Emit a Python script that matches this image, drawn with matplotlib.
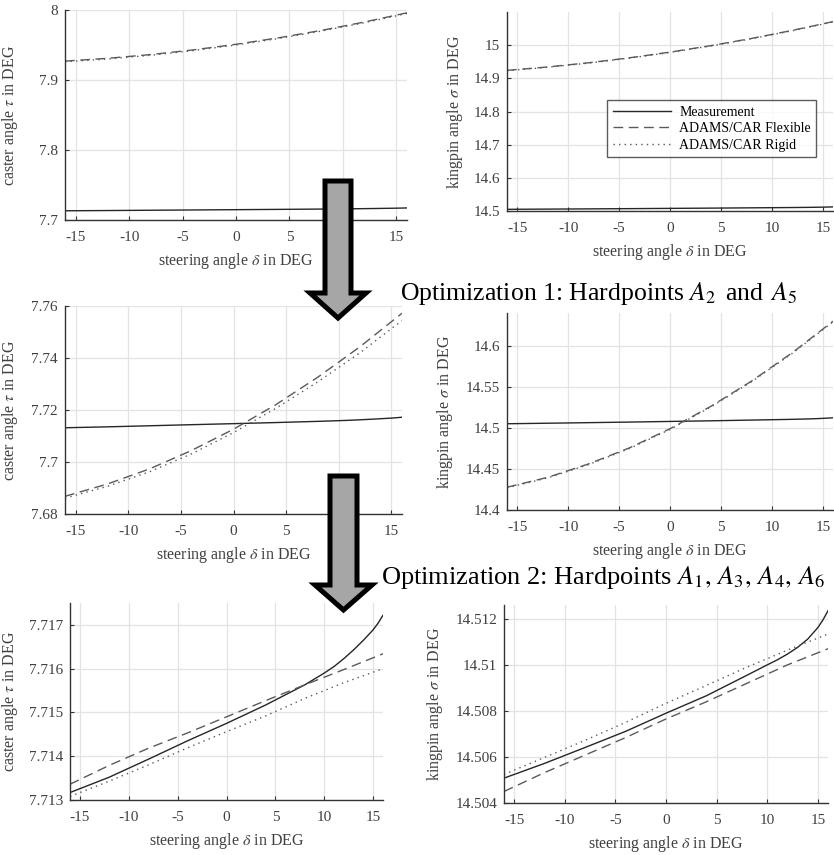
import matplotlib
matplotlib.use('Agg')
import matplotlib.pyplot as plt
from matplotlib.patches import Polygon
from matplotlib.lines import Line2D
from matplotlib.ticker import FuncFormatter

plt.rcParams['font.family'] = ['Liberation Serif', 'DejaVu Serif']
plt.rcParams['mathtext.fontset'] = 'stix'
plt.rcParams['axes.unicode_minus'] = False

# --- data (steering angle in DEG) ---
x_grid = [-16, -12, -8, -4, 0, 4, 8, 12, 16]
x_meas = [-16, -12, -8, -4, 0, 4, 8, 10, 11, 12, 13, 14, 15, 15.5, 16]

# measurement (same in all rows)
caster_meas = [7.71317, 7.71352, 7.71393, 7.71435, 7.71475, 7.71517, 7.71563, 7.71590, 7.71605,
               7.71623, 7.71643, 7.71665, 7.71689, 7.71704, 7.71722]
kingpin_meas = [14.50508, 14.50572, 14.50641, 14.50711, 14.50790, 14.50866, 14.50955, 14.51000,
                14.51022, 14.51047, 14.51076, 14.51112, 14.51162, 14.51195, 14.51235]

# initial model
caster_flex_0 = [7.927, 7.9310, 7.9363, 7.9430, 7.951, 7.9603, 7.9709, 7.9828, 7.996]
caster_rigid_0 = [7.926, 7.9300, 7.9353, 7.9420, 7.950, 7.9593, 7.9699, 7.9818, 7.995]
kingpin_flex_0 = [14.924, 14.9343, 14.9469, 14.9618, 14.979, 14.9985, 15.0203, 15.0445, 15.071]
kingpin_rigid_0 = [14.923, 14.9333, 14.9459, 14.9608, 14.978, 14.9975, 15.0193, 15.0435, 15.070]

# optimization 1
caster_flex_1 = [7.6868, 7.6915, 7.6973, 7.7044, 7.7126, 7.7220, 7.7326, 7.7443, 7.7572]
caster_rigid_1 = [7.6861, 7.6906, 7.6962, 7.7031, 7.7113, 7.7206, 7.7308, 7.7420, 7.7544]
kingpin_flex_1 = [14.4277, 14.4398, 14.4561, 14.4756, 14.4990, 14.5262, 14.5570, 14.5916, 14.6300]
kingpin_rigid_1 = [14.4270, 14.4391, 14.4553, 14.4748, 14.4982, 14.5254, 14.5562, 14.5908, 14.6292]

# optimization 2
caster_flex_2 = [7.71336, 7.71379, 7.71418, 7.71453, 7.71490, 7.71527, 7.71563, 7.71598, 7.71634]
caster_rigid_2 = [7.71308, 7.71343, 7.71380, 7.71419, 7.71456, 7.71492, 7.71532, 7.71568, 7.71600]
kingpin_flex_2 = [14.50450, 14.50532, 14.50608, 14.50684, 14.50765, 14.50840, 14.50920, 14.51000, 14.51070]
kingpin_rigid_2 = [14.50524, 14.50598, 14.50672, 14.50750, 14.50833, 14.50911, 14.50990, 14.51064, 14.51134]

x_ticks = [-15, -10, -5, 0, 5, 10, 15]
caster_ticks = [[7.7, 7.8, 7.9, 8.0], [7.68, 7.70, 7.72, 7.74, 7.76],
                [7.713, 7.714, 7.715, 7.716, 7.717]]
kingpin_ticks = [[14.5, 14.6, 14.7, 14.8, 14.9, 15.0], [14.4, 14.45, 14.5, 14.55, 14.6],
                 [14.504, 14.506, 14.508, 14.51, 14.512]]
caster_lims = [(7.7, 8.0), (7.68, 7.76), (7.713, 7.7175)]
kingpin_lims = [(14.5, 15.1), (14.4, 14.64), (14.504, 14.5126)]

# --- layout in pixels (left, top, right, bottom) ---
W, H = 834, 855
left_boxes = [(65, 10, 407, 220), (65, 306, 402, 514), (70, 603, 383, 800)]
right_boxes = [(507, 12, 833, 211), (507, 313, 833, 510), (504, 605, 828, 803)]
left_ylabel_x = [20, 20, 20]
right_ylabel_x = [465, 455, 445]

TXT = '#404040'
C_MEAS = '#262626'
C_SIM = '#5a5a5a'


def to_rect(b):
    l, t, r, bt = b
    return [l / W, 1 - bt / H, (r - l) / W, (bt - t) / H]


def style_axis(ax, box, lims, yticks, ylabel, label_x):
    ax.set_xlim(-16, 16)
    ax.set_ylim(*lims)
    ax.set_xticks(x_ticks)
    ax.set_yticks(yticks)
    ax.yaxis.set_major_formatter(FuncFormatter(lambda v, p: '%g' % round(v, 6)))
    ax.grid(True, color='#e3e3e3', linewidth=0.9)
    ax.set_axisbelow(True)
    for s in ['top', 'right']:
        ax.spines[s].set_visible(False)
    for s in ['left', 'bottom']:
        ax.spines[s].set_color('#333333')
        ax.spines[s].set_linewidth(1.0)
    ax.tick_params(direction='in', length=3, width=0.8, colors='#333333',
                   labelcolor=TXT, labelsize=11)
    ax.tick_params(axis='x', pad=8)
    ax.tick_params(axis='y', pad=5)
    ax.set_xlabel(r'steering angle $\delta$ in DEG', fontsize=11.5, color=TXT, labelpad=5)
    ax.set_ylabel(ylabel, fontsize=11.5, color=TXT)
    ax.yaxis.set_label_coords((label_x - box[0]) / (box[2] - box[0]), 0.5)


def draw(ax, meas, flex, rigid):
    ax.plot(x_meas, meas, color=C_MEAS, lw=1.0, ls='-')
    ax.plot(x_grid, flex, color=C_SIM, lw=1.0, ls=(0, (7, 4)))
    ax.plot(x_grid, rigid, color=C_SIM, lw=1.0, ls=(0, (1, 3)))


fig = plt.figure(figsize=(W / 100, H / 100), dpi=100)

caster_sets = [(caster_flex_0, caster_rigid_0), (caster_flex_1, caster_rigid_1),
               (caster_flex_2, caster_rigid_2)]
kingpin_sets = [(kingpin_flex_0, kingpin_rigid_0), (kingpin_flex_1, kingpin_rigid_1),
                (kingpin_flex_2, kingpin_rigid_2)]

for i in range(3):
    axl = fig.add_axes(to_rect(left_boxes[i]))
    draw(axl, caster_meas, *caster_sets[i])
    style_axis(axl, left_boxes[i], caster_lims[i], caster_ticks[i],
               r'caster angle $\tau$ in DEG', left_ylabel_x[i])

    axr = fig.add_axes(to_rect(right_boxes[i]))
    draw(axr, kingpin_meas, *kingpin_sets[i])
    style_axis(axr, right_boxes[i], kingpin_lims[i], kingpin_ticks[i],
               r'kingpin angle $\sigma$ in DEG', right_ylabel_x[i])

    if i == 0:
        handles = [Line2D([], [], color=C_MEAS, lw=1.0, ls='-'),
                   Line2D([], [], color=C_SIM, lw=1.0, ls=(0, (7, 4))),
                   Line2D([], [], color=C_SIM, lw=1.0, ls=(0, (1, 3)))]
        leg = axr.legend(handles, ['Measurement', 'ADAMS/CAR Flexible', 'ADAMS/CAR Rigid'],
                         loc='upper left', bbox_to_anchor=((607 - 507) / 326, (211 - 100) / 199),
                         borderaxespad=0, fontsize=10, frameon=True, fancybox=False,
                         handlelength=4.2, borderpad=0.4, labelspacing=0.25, handletextpad=0.6)
        leg.get_frame().set_edgecolor('#333333')
        leg.get_frame().set_linewidth(1.0)


# big arrows between the rows (pixel outlines, border centred)
def arrow(shaft_l, shaft_r, top, head_y, head_l, head_r, tip):
    cx = (head_l + head_r) / 2
    pts = [(shaft_l, top), (shaft_r, top), (shaft_r, head_y), (head_r, head_y),
           (cx, tip), (head_l, head_y), (shaft_l, head_y)]
    pts = [(px / W, 1 - py / H) for px, py in pts]
    p = Polygon(pts, closed=True, transform=fig.transFigure, facecolor='#a6a6a6',
                edgecolor='black', linewidth=3.6, joinstyle='miter', zorder=10)
    fig.add_artist(p)


arrow(325, 351, 181, 293, 310, 366, 318)
arrow(330, 357, 476, 585, 315, 372, 610)

fig.text(400 / W, 1 - 300 / H, r'Optimization 1: Hardpoints $A_2\,$ and $\,A_5$',
         fontsize=18.5, color='black', va='baseline', ha='left')
fig.text(381 / W, 1 - 584 / H, r'Optimization 2: Hardpoints $A_1,\,A_3,\,A_4,\,A_6$',
         fontsize=19, color='black', va='baseline', ha='left', zorder=5,
         bbox=dict(facecolor='white', edgecolor='none', pad=1))

fig.savefig('out.png', dpi=100)
